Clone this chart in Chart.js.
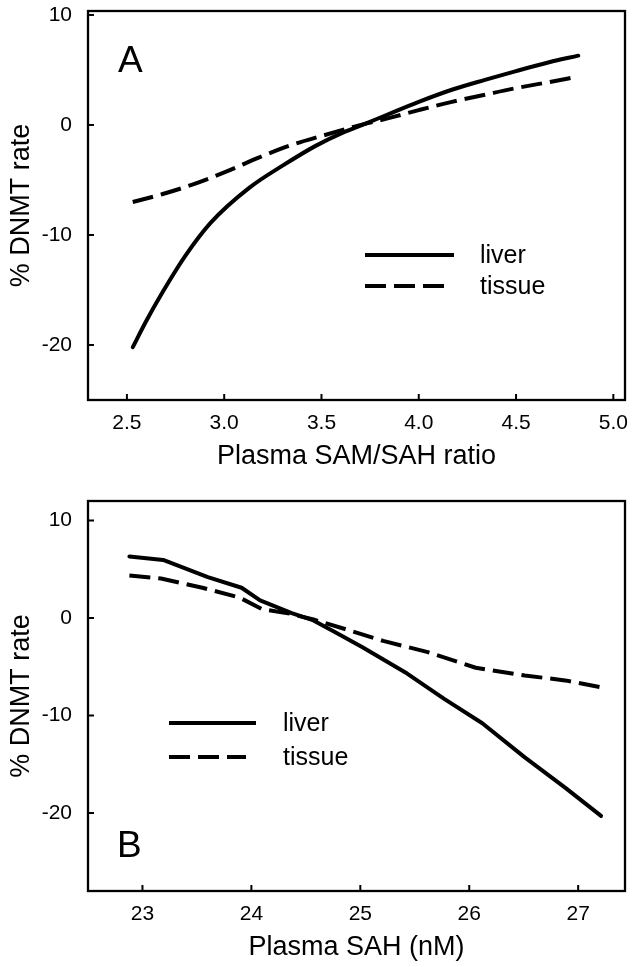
<!DOCTYPE html>
<html><head><meta charset="utf-8">
<script src="https://cdn.jsdelivr.net/npm/chart.js@4.4.1/dist/chart.umd.min.js"></script>
<style>
html,body{margin:0;padding:0;background:#fff;width:632px;height:967px;overflow:hidden;}
#wa{position:absolute;left:0;top:0;width:632px;height:480px;}
#wb{position:absolute;left:0;top:480px;width:632px;height:487px;}
canvas{display:block;}
</style></head><body>
<div id="wa"><canvas id="ca" width="632" height="480"></canvas></div>
<div id="wb"><canvas id="cb" width="632" height="487"></canvas></div>
<script>
// ---- Data ----
const seriesNames = ['liver', 'tissue'];

// Panel A: % DNMT rate vs plasma SAM/SAH ratio
const liverA_x = [2.53, 2.60, 2.68, 2.80, 2.93, 3.13, 3.30, 3.47, 3.61, 3.71, 3.84, 4.00, 4.17, 4.34, 4.50, 4.67, 4.82];
const liverA_y = [-20.2, -17.8, -15.3, -11.9, -8.9, -5.7, -3.7, -1.9, -0.7, 0.0, 0.95, 2.1, 3.2, 4.1, 4.9, 5.7, 6.3];
const tissueA_x = [2.53, 2.68, 2.84, 3.01, 3.18, 3.34, 3.51, 3.67, 3.84, 4.00, 4.17, 4.34, 4.50, 4.67, 4.82];
const tissueA_y = [-7.0, -6.3, -5.4, -4.25, -2.95, -1.85, -0.95, -0.15, 0.6, 1.35, 2.1, 2.75, 3.35, 3.9, 4.4];

// Panel B: % DNMT rate vs plasma SAH (nM)
const liverB_x = [22.88, 23.19, 23.60, 23.91, 24.08, 24.37, 24.57, 24.77, 25.02, 25.43, 25.77, 26.12, 26.51, 26.88, 27.21];
const liverB_y = [6.3, 5.95, 4.2, 3.1, 1.8, 0.5, -0.25, -1.45, -3.0, -5.7, -8.3, -10.8, -14.3, -17.4, -20.3];
const tissueB_x = [22.88, 23.17, 23.55, 23.89, 24.10, 24.35, 24.57, 24.88, 25.21, 25.62, 26.06, 26.51, 26.88, 27.21];
const tissueB_y = [4.35, 4.05, 3.1, 2.1, 0.9, 0.45, -0.15, -1.2, -2.35, -3.5, -5.1, -5.9, -6.4, -7.1];

// Tick labels
const yTickValues = [-20, -10, 0, 10];
const xTicksA = [2.5, 3.0, 3.5, 4.0, 4.5, 5.0];
const xTicksB = [23, 24, 25, 26, 27];

const titleY = '% DNMT rate';
const titleXA = 'Plasma SAM/SAH ratio';
const titleXB = 'Plasma SAH (nM)';

// ---- Rendering ----
const FONT = "'Liberation Sans', Arial, Helvetica, sans-serif";
const DASH = [21, 8];

function pts(xs, ys) { return xs.map((x, i) => ({x: x, y: ys[i]})); }

const framePlugin = {
  id: 'frame',
  afterDatasetsDraw(chart, args, o) {
    const ctx = chart.ctx;
    const {left, top, right, bottom} = chart.chartArea;
    const xs = chart.scales.x, ys = chart.scales.y;
    ctx.save();
    ctx.strokeStyle = '#000';
    ctx.lineWidth = 2.3;
    ctx.strokeRect(left, top, right - left, bottom - top);
    ctx.lineWidth = 2;
    xs.ticks.forEach(t => {
      const p = xs.getPixelForValue(t.value);
      ctx.beginPath(); ctx.moveTo(p, bottom); ctx.lineTo(p, bottom - 6); ctx.stroke();
    });
    ys.ticks.forEach(t => {
      const p = ys.getPixelForValue(t.value);
      ctx.beginPath(); ctx.moveTo(left, p); ctx.lineTo(left + 6, p); ctx.stroke();
    });
    // legend
    const ds = chart.data.datasets;
    const ends = [o.solidEnd, o.dashEnd];
    const rows = [o.y1, o.y2];
    ds.forEach((d, i) => {
      ctx.beginPath();
      ctx.lineWidth = 4.2;
      ctx.setLineDash(d.borderDash || []);
      ctx.moveTo(o.x0, rows[i]); ctx.lineTo(ends[i], rows[i]);
      ctx.stroke();
      ctx.setLineDash([]);
      ctx.fillStyle = '#000';
      ctx.font = '25px ' + FONT;
      ctx.textBaseline = 'middle';
      ctx.textAlign = 'left';
      ctx.fillText(d.label, o.textX, rows[i] + 1);
    });
    // panel letter
    ctx.font = '37px ' + FONT;
    ctx.textBaseline = 'alphabetic';
    ctx.fillText(o.letter, o.letterX, o.letterY);
    ctx.restore();
  }
};

function makeChart(id, cfg) {
  return new Chart(document.getElementById(id), {
    type: 'line',
    data: {
      datasets: [
        {label: seriesNames[0], data: pts(cfg.lx, cfg.ly), borderColor: '#000', borderWidth: 4,
         pointRadius: 0, fill: false, cubicInterpolationMode: cfg.smooth ? 'monotone' : 'default', tension: 0,
         borderCapStyle: 'round', borderJoinStyle: 'round'},
        {label: seriesNames[1], data: pts(cfg.tx, cfg.ty), borderColor: '#000', borderWidth: 4,
         borderDash: DASH, pointRadius: 0, fill: false,
         cubicInterpolationMode: cfg.smooth ? 'monotone' : 'default', tension: 0, borderJoinStyle: 'round'}
      ]
    },
    options: {
      responsive: false,
      animation: false,
      devicePixelRatio: 1,
      layout: {padding: {top: cfg.padTop, right: 7, left: 0, bottom: 0}},
      plugins: {
        legend: {display: false},
        tooltip: {enabled: false},
        frame: cfg.frame
      },
      scales: {
        x: {
          type: 'linear', min: cfg.xmin, max: cfg.xmax,
          grid: {display: false, drawTicks: false},
          border: {display: false},
          afterBuildTicks: s => { s.ticks = cfg.xticks.map(v => ({value: v})); },
          afterFit: s => { s.height = cfg.xHeight; s.paddingLeft = 0; s.paddingRight = 0; },
          ticks: {
            padding: 11, color: '#000', font: {family: FONT, size: 21},
            maxRotation: 0, autoSkip: false,
            callback: v => cfg.xfmt(v)
          },
          title: {display: true, text: cfg.xtitle, color: '#000',
                  font: {family: FONT, size: 27}, padding: {top: 0, bottom: cfg.xTitlePad}}
        },
        y: {
          type: 'linear', min: cfg.ymin, max: cfg.ymax,
          grid: {display: false, drawTicks: false},
          border: {display: false},
          afterBuildTicks: s => { s.ticks = yTickValues.map(v => ({value: v})); },
          afterFit: s => { s.width = 88; s.paddingTop = 0; s.paddingBottom = 0; },
          ticks: {padding: 16, color: '#000', font: {family: FONT, size: 21}},
          title: {display: true, text: titleY, color: '#000',
                  font: {family: FONT, size: 27}, padding: {top: 5, bottom: 0}}
        }
      }
    },
    plugins: [framePlugin]
  });
}

makeChart('ca', {
  lx: liverA_x, ly: liverA_y, tx: tissueA_x, ty: tissueA_y, smooth: true,
  xmin: 2.3, xmax: 5.06, ymin: -25, ymax: 10.36,
  xticks: xTicksA, xfmt: v => Number(v).toFixed(1), xtitle: titleXA,
  padTop: 11, xHeight: 80, xTitlePad: 7,
  frame: {x0: 365, solidEnd: 454, dashEnd: 444, textX: 480, y1: 255, y2: 286,
          letter: 'A', letterX: 118, letterY: 72}
});

makeChart('cb', {
  lx: liverB_x, ly: liverB_y, tx: tissueB_x, ty: tissueB_y, smooth: false,
  xmin: 22.5, xmax: 27.43, ymin: -28, ymax: 12,
  xticks: xTicksB, xfmt: v => String(v), xtitle: titleXB,
  padTop: 21, xHeight: 76, xTitlePad: 3,
  frame: {x0: 169, solidEnd: 256, dashEnd: 246, textX: 283, y1: 243, y2: 277,
          letter: 'B', letterX: 117, letterY: 377}
});
</script>
</body></html>
